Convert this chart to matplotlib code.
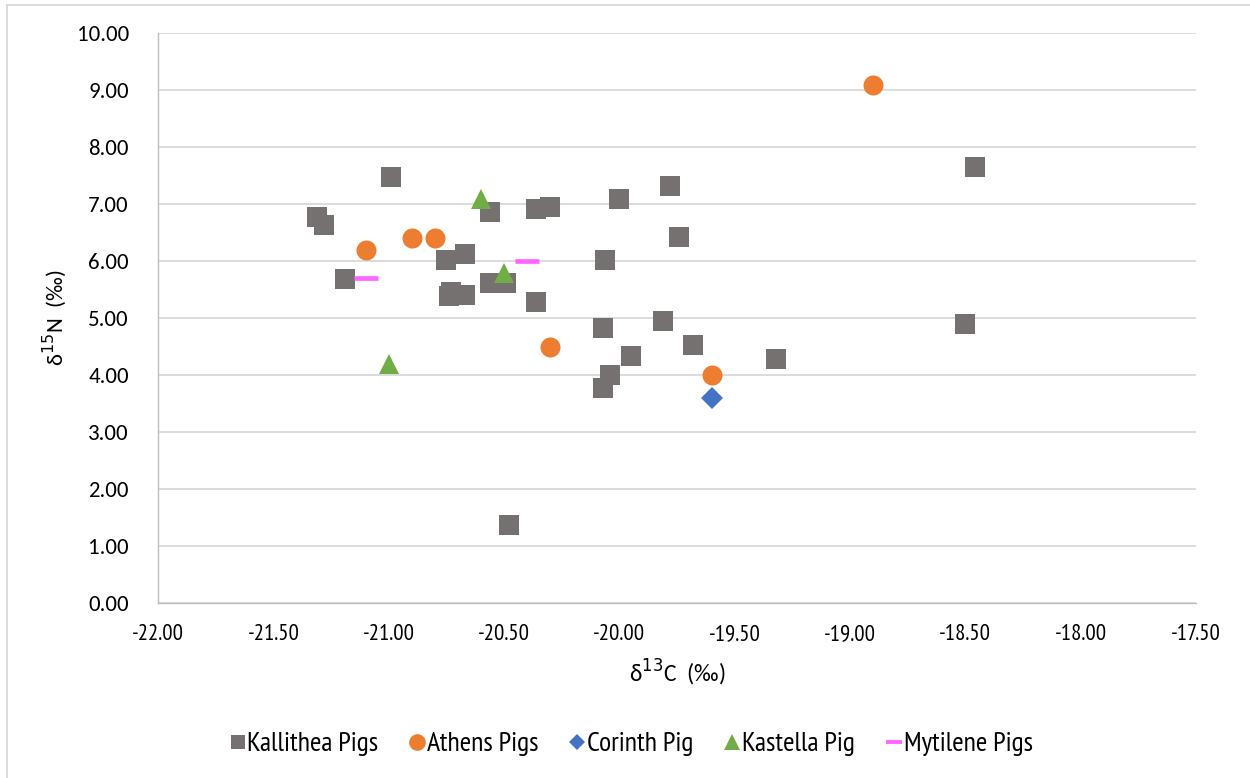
import matplotlib.pyplot as plt
from matplotlib.lines import Line2D

# δ13C / δ15N values per group
kallithea_c = [-20.99, -21.31, -21.28, -20.56, -20.36, -20.30, -20.75, -20.67, -21.19, -20.74,
               -20.73, -20.67, -20.56, -20.49, -20.36, -20.00, -19.78, -19.74, -20.06, -20.07,
               -19.81, -19.68, -19.95, -20.04, -20.07, -19.32, -18.46, -18.50, -20.48]
kallithea_n = [7.48, 6.78, 6.64, 6.86, 6.92, 6.95, 6.02, 6.13, 5.69, 5.39,
               5.47, 5.41, 5.62, 5.62, 5.28, 7.09, 7.32, 6.42, 6.02, 4.83,
               4.95, 4.53, 4.34, 4.00, 3.77, 4.28, 7.65, 4.90, 1.37]
athens_c = [-21.1, -20.9, -20.8, -20.3, -19.6, -18.9]
athens_n = [6.2, 6.4, 6.4, 4.5, 4.0, 9.1]
corinth_c = [-19.6]
corinth_n = [3.6]
kastella_c = [-20.6, -20.5, -21.0]
kastella_n = [7.1, 5.8, 4.2]
mytilene_c = [-21.1, -20.4]
mytilene_n = [5.7, 6.0]

narrow = ['PT Sans Narrow', 'DejaVu Sans']
normal = ['Carlito', 'DejaVu Sans']

fig = plt.figure(figsize=(12.5, 7.78), dpi=100)
ax = fig.add_axes([158 / 1250, 1 - 603.3 / 778, 1038 / 1250, 570 / 778])

ax.plot(kallithea_c, kallithea_n, 's', ms=13.7, color='#767171', mew=0, label='Kallithea Pigs')
ax.plot(athens_c, athens_n, 'o', ms=14.4, color='#ED7D31', mew=0, label='Athens Pigs')
ax.plot(corinth_c, corinth_n, 'D', ms=11.5, color='#4472C4', mew=0, label='Corinth Pig')
ax.plot(kastella_c, kastella_n, '^', ms=15, color='#70AD47', mew=0, label='Kastella Pig')
ax.plot(mytilene_c, mytilene_n, '_', ms=17, mew=3.4, color='#FF66FF', label='Mytilene Pigs')

ax.set_xlim(-22, -17.5)
ax.set_ylim(0, 10)
ax.set_xticks([-22 + 0.5 * i for i in range(10)])
ax.set_yticks(range(11))
ax.set_xticklabels(['%.2f' % t for t in ax.get_xticks()], fontfamily=narrow, fontsize=16.5)
ax.set_yticklabels(['%.2f' % t for t in ax.get_yticks()], fontfamily=normal, fontsize=16.5)
ax.tick_params(length=0, colors='#000000')
ax.tick_params(axis='x', pad=15)
ax.tick_params(axis='y', pad=21)

ax.grid(axis='y', color='#D9D9D9', lw=1.3)
ax.set_axisbelow(True)
for s in ['top', 'right']:
    ax.spines[s].set_visible(False)
for s in ['left', 'bottom']:
    ax.spines[s].set_color('#BFBFBF')
    ax.spines[s].set_linewidth(1.0)

ax.set_xlabel('δ$^{13}$C  (‰)', fontfamily=normal, fontsize=17, labelpad=9)
ax.set_ylabel('δ$^{15}$N  (‰)', fontfamily=normal, fontsize=16.5, labelpad=6)

# legend below the plot
handles = [
    Line2D([], [], ls='', marker='s', ms=10.5, color='#767171', mew=0),
    Line2D([], [], ls='', marker='o', ms=12, color='#ED7D31', mew=0),
    Line2D([], [], ls='', marker='D', ms=8, color='#4472C4', mew=0),
    Line2D([], [], ls='', marker='^', ms=11, color='#70AD47', mew=0),
    Line2D([], [], ls='', marker='_', ms=12, mew=2.8, color='#FF66FF'),
]
labels = ['Kallithea Pigs', 'Athens Pigs', 'Corinth Pig', 'Kastella Pig', 'Mytilene Pigs']
fig.legend(handles, labels, loc='center', bbox_to_anchor=(631 / 1250, 1 - 744 / 778), ncol=5,
           frameon=False, prop={'family': narrow, 'size': 20}, handlelength=0.6,
           handletextpad=0.05, columnspacing=1.1)

# chart area border (top and left edges)
fig.add_artist(Line2D([7 / 1250, 1], [1 - 5 / 778, 1 - 5 / 778], color='#D9D9D9', lw=1.3,
                      transform=fig.transFigure))
fig.add_artist(Line2D([7 / 1250, 7 / 1250], [0, 1 - 5 / 778], color='#D9D9D9', lw=1.3,
                      transform=fig.transFigure))

fig.savefig('out.png', dpi=100)
